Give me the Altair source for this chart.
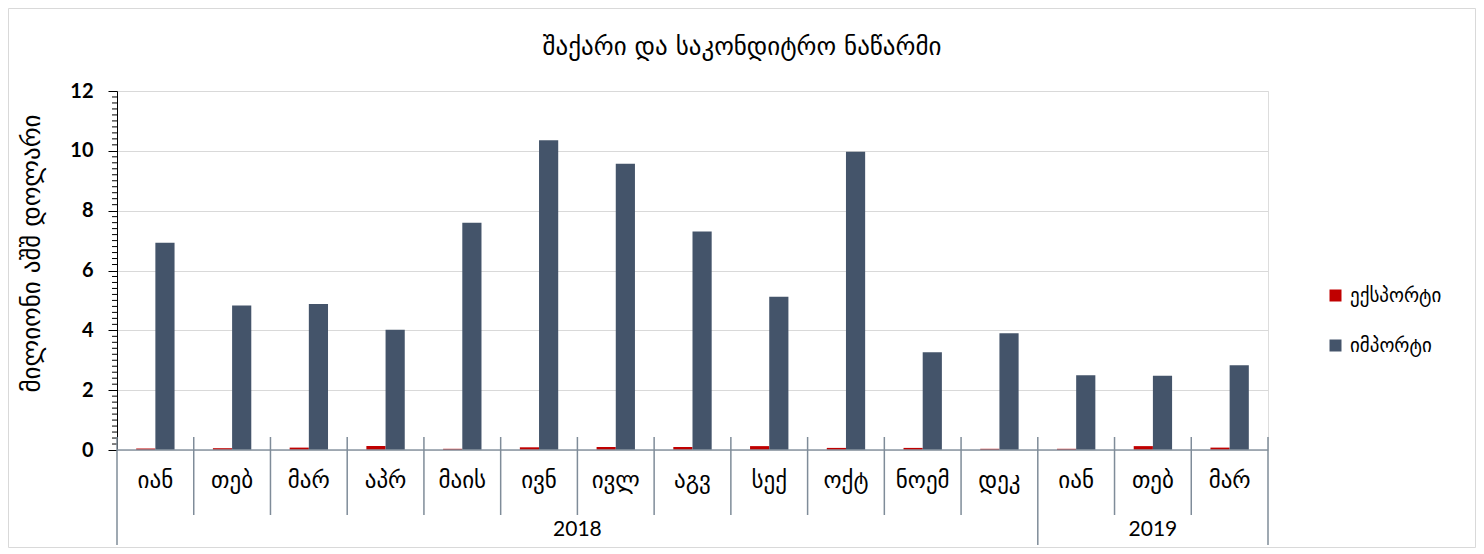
import altair as alt
import pandas as pd

months = ["იან", "თებ", "მარ", "აპრ", "მაის", "ივნ", "ივლ", "აგვ", "სექ", "ოქტ", "ნოემ", "დეკ", "იან", "თებ", "მარ"]
years = [2018] * 12 + [2019] * 3
export_vals = [0.05, 0.06, 0.08, 0.13, 0.04, 0.09, 0.10, 0.10, 0.13, 0.07, 0.07, 0.04, 0.04, 0.13, 0.08]
import_vals = [6.93, 4.83, 4.88, 4.02, 7.60, 10.35, 9.57, 7.30, 5.12, 9.97, 3.27, 3.90, 2.50, 2.48, 2.83]
series_names = ["ექსპორტი", "იმპორტი"]
series_colors = ["#C00000", "#44546A"]
title_text = "შაქარი და საკონდიტრო ნაწარმი"
y_title = "მილიონი აშშ დოლარი"
y_major = [0, 2, 4, 6, 8, 10, 12]

W, H = 1151, 359
GEO = "DejaVu Sans"
NUM = "Lato"
SEP = "#7f8c99"

rows = []
for i in range(len(months)):
    rows.append({"idx": i, "series": series_names[0], "value": export_vals[i]})
    rows.append({"idx": i, "series": series_names[1], "value": import_vals[i]})
bars_df = pd.DataFrame(rows)

yscale = alt.Scale(domain=[0, 12], nice=False, zero=True)

bars = alt.Chart(bars_df).mark_bar().encode(
    x=alt.X("idx:N", axis=None, scale=alt.Scale(paddingInner=0, paddingOuter=0)),
    xOffset=alt.XOffset("series:N", sort=series_names,
                        scale=alt.Scale(paddingInner=0, paddingOuter=1)),
    y=alt.Y("value:Q", scale=yscale,
            axis=alt.Axis(values=y_major, title=y_title, titleFont=GEO, titleFontSize=25,
                          titleFontWeight="normal", titleColor="#000000", titleX=-86, titleY=162,
                          titleBaseline="middle", titleAngle=-90,
                          labelFont=NUM, labelFontSize=20, labelFontWeight="bold",
                          labelColor="#000000", labelPadding=15, tickSize=9, tickColor="#000000",
                          domainColor="#000000", gridColor="#d9d9d9", gridWidth=1)),
    color=alt.Color("series:N", sort=series_names,
                    scale=alt.Scale(domain=series_names, range=series_colors),
                    legend=alt.Legend(orient="none", legendX=1209, legendY=195, title=None,
                                      symbolType="square", symbolSize=144, symbolStrokeWidth=0,
                                      labelFont=GEO, labelFontSize=19, labelColor="#000000",
                                      rowPadding=30, labelOffset=5)),
)

minor_vals = [round(i * 0.2, 1) for i in range(61) if i % 10 != 0]
minor_df = pd.DataFrame({"v": minor_vals})
minor = alt.Chart(minor_df).mark_rule(color="#000000", strokeWidth=1).encode(
    y=alt.Y("v:Q", scale=yscale), x=alt.value(-5), x2=alt.value(0))

zero_line = alt.Chart(pd.DataFrame({"v": [0]})).mark_rule(color="#8a96a2", strokeWidth=1.5).encode(
    y=alt.Y("v:Q", scale=yscale), x=alt.value(0), x2=alt.value(W))

xq = alt.Scale(domain=[0, len(months)], nice=False, zero=False)

lab_df = pd.DataFrame({"pos": [i + 0.5 for i in range(len(months))], "m": months})
month_labels = alt.Chart(lab_df).mark_text(font=GEO, fontSize=23, color="#000000", baseline="middle").encode(
    x=alt.X("pos:Q", scale=xq, axis=None), y=alt.value(390), text="m:N")

year_list = sorted(set(years))
yr_pos = []
for yv in year_list:
    ids = [i for i, yy in enumerate(years) if yy == yv]
    yr_pos.append((min(ids) + max(ids) + 1) / 2)
yr_df = pd.DataFrame({"pos": yr_pos, "yr": [str(y) for y in year_list]})
year_labels = alt.Chart(yr_df).mark_text(font=NUM, fontSize=21, color="#000000", baseline="middle").encode(
    x=alt.X("pos:Q", scale=xq, axis=None), y=alt.value(439), text="yr:N")

month_b = [i for i in range(1, len(months)) if years[i] == years[i - 1]]
year_b = [0] + [i for i in range(1, len(months)) if years[i] != years[i - 1]] + [len(months)]
msep = alt.Chart(pd.DataFrame({"b": month_b})).mark_rule(color=SEP, strokeWidth=1.5).encode(
    x=alt.X("b:Q", scale=xq, axis=None), y=alt.value(346), y2=alt.value(424))
ysep = alt.Chart(pd.DataFrame({"b": year_b})).mark_rule(color=SEP, strokeWidth=1.5).encode(
    x=alt.X("b:Q", scale=xq, axis=None), y=alt.value(346), y2=alt.value(454))

one = pd.DataFrame({"t": [title_text]})
title = alt.Chart(one).mark_text(font=GEO, fontSize=25, color="#000000", baseline="middle").encode(
    x=alt.value(625), y=alt.value(-44), text="t:N")

border = alt.Chart(one).mark_rect(fillOpacity=0, stroke="#d9d9d9", strokeWidth=1).encode(
    x=alt.value(-108.5), x2=alt.value(W + 207.5), y=alt.value(-82.5), y2=alt.value(H + 97.5))

chart = alt.layer(
    border, bars, minor, zero_line, month_labels, year_labels, msep, ysep, title
).resolve_scale(x="independent").properties(
    width=W, height=H, autosize="none",
    padding={"left": 109, "top": 83, "right": 208, "bottom": 98},
).configure_view(stroke=None).configure(background="#ffffff")

chart.save("out.html", embed_options={"renderer": "svg", "actions": False})
